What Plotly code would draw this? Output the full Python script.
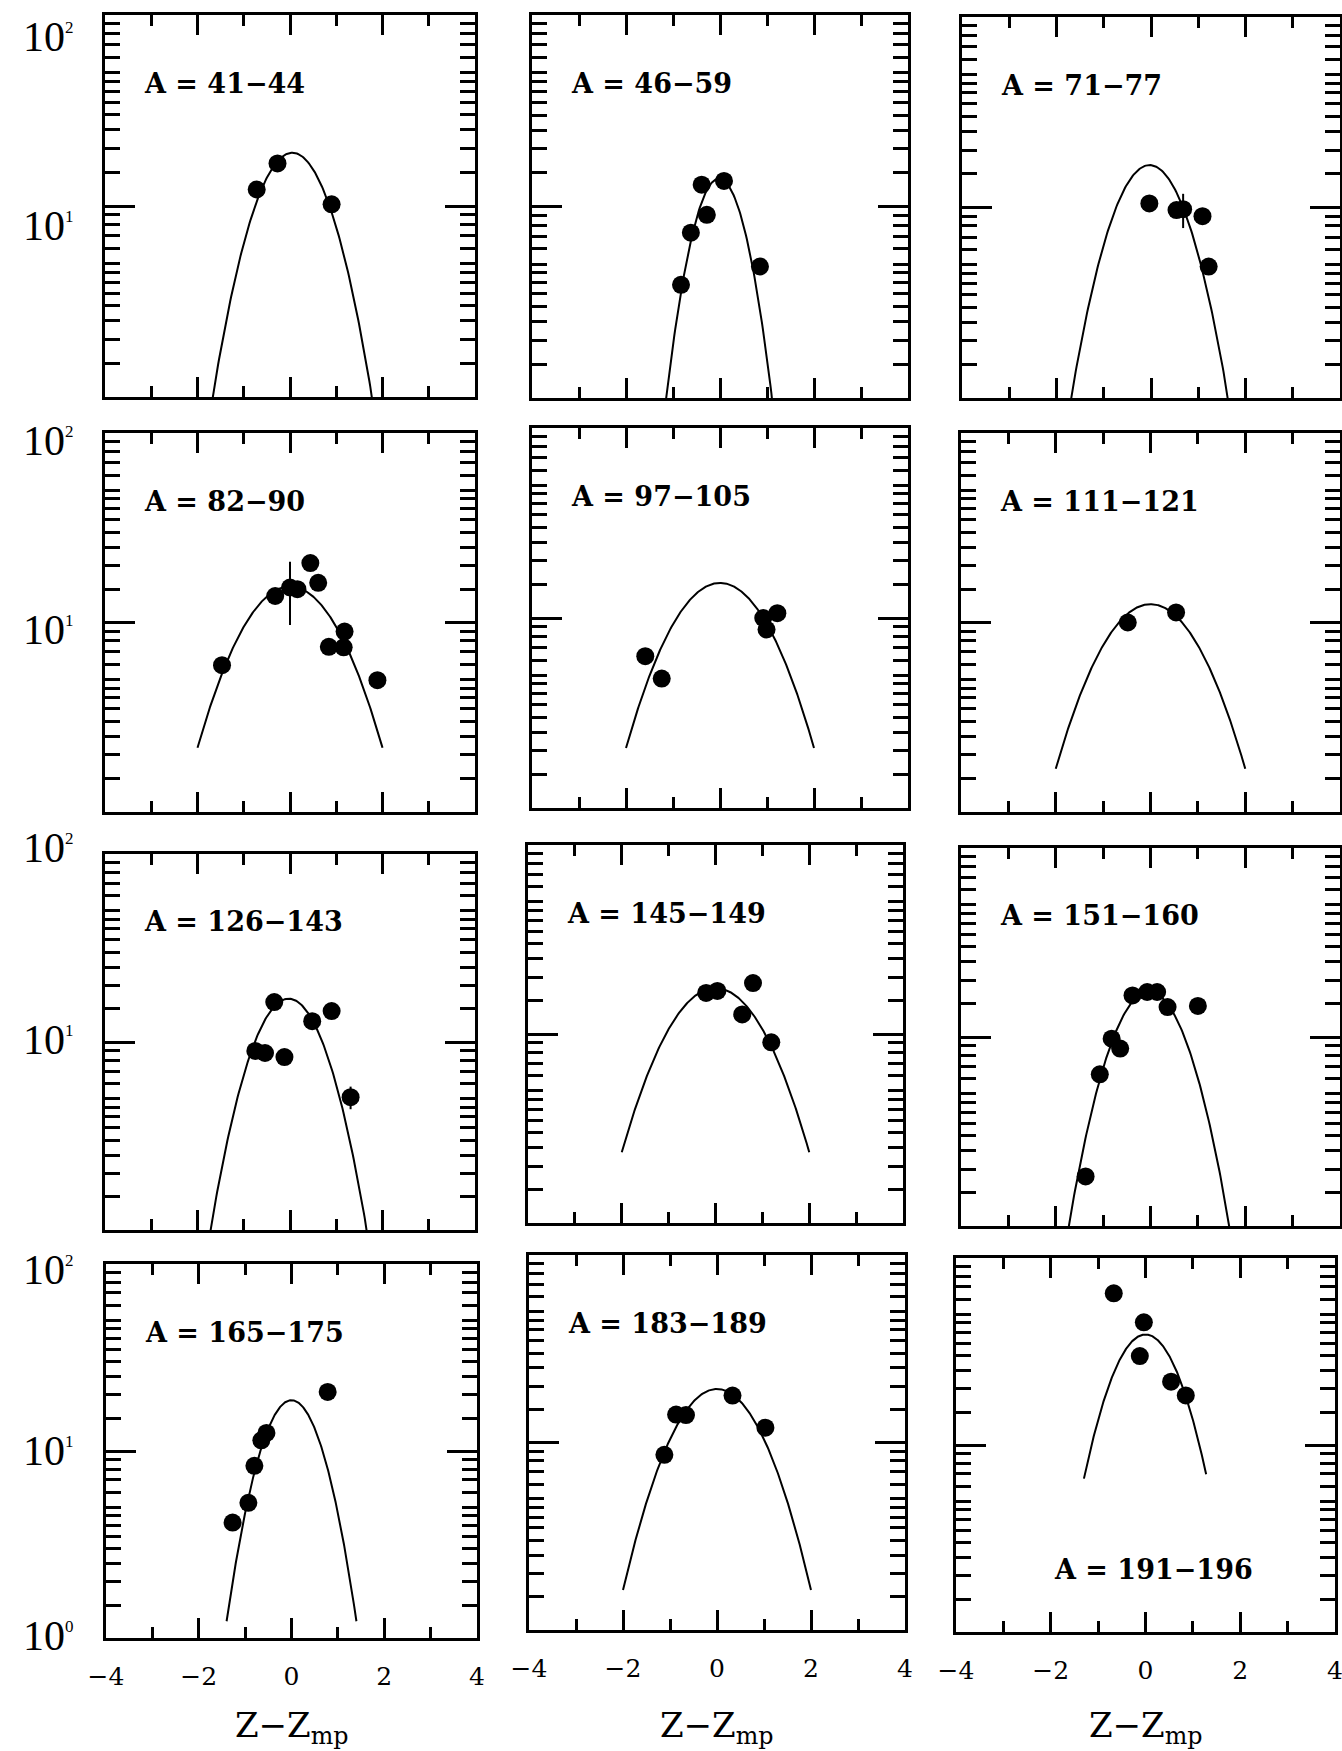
import numpy as np
import plotly.graph_objects as go

W, H = 1342, 1751

# ---------------- data ----------------
labels = ["A = 41−44", "A = 46−59", "A = 71−77",
          "A = 82−90", "A = 97−105", "A = 111−121",
          "A = 126−143", "A = 145−149", "A = 151−160",
          "A = 165−175", "A = 183−189", "A = 191−196"]

x_41_44 = [-0.72, -0.27, 0.90]
y_41_44 = [12.2, 16.7, 10.2]
x_46_59 = [-0.83, -0.62, -0.39, -0.28, 0.085, 0.85]
y_46_59 = [3.9, 7.3, 13.0, 9.05, 13.6, 4.86]
x_71_77 = [-0.035, 0.54, 0.68, 1.09, 1.22]
y_71_77 = [10.5, 9.7, 9.8, 9.0, 4.9]
e_71_77 = [0, 0, 2.0, 0, 0]
x_82_90 = [-1.47, -0.32, 0.0, 0.16, 0.44, 0.61, 0.84, 1.16, 1.18, 1.89]
y_82_90 = [5.95, 13.8, 15.3, 15.0, 20.6, 16.2, 7.44, 7.4, 8.96, 4.96]
e_82_90 = [0, 0, 5.6, 0, 0, 0, 0, 0, 0, 0]
x_97_105 = [-1.59, -1.24, 0.92, 0.99, 1.22]
y_97_105 = [6.3, 4.8, 10.0, 8.7, 10.6]
x_111_121 = [-0.48, 0.54]
y_111_121 = [10.0, 11.3]
x_126_143 = [-0.75, -0.54, -0.34, -0.12, 0.48, 0.90, 1.31]
y_126_143 = [8.96, 8.74, 16.3, 8.32, 12.9, 14.6, 5.09]
e_126_143 = [0, 0, 0, 0, 0, 0, 0.7]
x_145_149 = [-0.20, 0.04, 0.57, 0.80, 1.19]
y_145_149 = [16.5, 16.9, 12.7, 18.6, 9.04]
x_151_160 = [-1.37, -1.07, -0.82, -0.64, -0.38, -0.07, 0.14, 0.36, 1.0]
y_151_160 = [1.83, 6.35, 9.8, 8.68, 16.6, 17.3, 17.3, 14.4, 14.6]
x_165_175 = [-1.27, -0.93, -0.80, -0.65, -0.54, 0.78]
y_165_175 = [4.14, 5.28, 8.33, 11.4, 12.5, 20.7]
x_183_189 = [-1.12, -0.87, -0.66, 0.33, 1.03]
y_183_189 = [8.6, 14.1, 14.0, 17.8, 12.0]
x_191_196 = [-0.67, -0.035, -0.12, 0.54, 0.85]
y_191_196 = [64.7, 45.3, 29.9, 21.8, 18.4]

# Gaussian fit curves drawn in each panel: peak height, centroid, width, drawn x-range
curve_amp = [19.0, 14.0, 16.7, 15.5, 15.3, 12.5, 17.0, 17.5, 17.4, 18.7, 19.3, 39.0]
curve_center = [0.05, -0.02, -0.03, 0.0, 0.0, 0.0, -0.03, 0.0, -0.03, 0.0, 0.0, 0.0]
curve_sigma = [0.71, 0.49, 0.70, 1.01, 1.0, 1.0, 0.71, 1.0, 0.71, 0.60, 0.90, 0.69]
curve_xmin = [-3, -3, -3, -2, -2, -2, -3, -2, -3, -1.4, -2, -1.3]
curve_xmax = [3, 3, 3, 2, 2, 2, 3, 2, 3, 1.4, 2, 1.28]

x_tickvals = [-4, -2, 0, 2, 4]
x_ticktext = ["−4", "−2", "0", "2", "4"]
x_minor = [-3, -1, 1, 3]
y_tickvals = [1, 10, 100]
y_minor_mantissa = [1.5, 2, 2.5, 3, 3.5, 4, 4.5, 5, 6, 7, 8, 9]
y_minor = [m * 10 ** d for d in (0, 1) for m in y_minor_mantissa]

pts_x = [x_41_44, x_46_59, x_71_77, x_82_90, x_97_105, x_111_121,
         x_126_143, x_145_149, x_151_160, x_165_175, x_183_189, x_191_196]
pts_y = [y_41_44, y_46_59, y_71_77, y_82_90, y_97_105, y_111_121,
         y_126_143, y_145_149, y_151_160, y_165_175, y_183_189, y_191_196]
pts_e = {2: e_71_77, 3: e_82_90, 6: e_126_143}

# ---------------- layout geometry (pixels: left, right, top, bottom) ----------------
panel_px = [
    (105, 475, 15, 397), (532, 908, 15, 398), (962, 1340, 17, 398),
    (105, 475, 433, 812), (532, 908, 428, 808), (961, 1340, 433, 812),
    (105, 475, 854, 1230), (528, 903, 845, 1223), (961, 1340, 848, 1226),
    (106, 477, 1264, 1638), (529, 905, 1255, 1630), (956, 1335, 1258, 1632),
]

SERIF = "DejaVu Serif"
fig = go.Figure()
layout = dict(width=W, height=H, margin=dict(l=0, r=0, t=0, b=0, autoexpand=False),
              paper_bgcolor="white", plot_bgcolor="white", showlegend=False,
              font=dict(family=SERIF, color="black"))
annotations = []

for i in range(12):
    n = "" if i == 0 else str(i + 1)
    l, r, t, b = panel_px[i]
    bottom_row = i >= 9
    xs = np.linspace(curve_xmin[i], curve_xmax[i], 300)
    ys = curve_amp[i] * np.exp(-(xs - curve_center[i]) ** 2 / (2 * curve_sigma[i] ** 2))
    fig.add_trace(go.Scatter(x=xs, y=ys, mode="lines", line=dict(color="black", width=2),
                             xaxis="x" + n, yaxis="y" + n, hoverinfo="skip"))
    err = None
    if i in pts_e:
        err = dict(type="data", array=pts_e[i], visible=True, color="black",
                   thickness=2, width=0)
    fig.add_trace(go.Scatter(x=pts_x[i], y=pts_y[i], mode="markers",
                             marker=dict(color="black", size=18, line=dict(width=0)),
                             error_y=err, xaxis="x" + n, yaxis="y" + n))
    layout["xaxis" + n] = dict(
        domain=[l / W, r / W], anchor="y" + n, range=[-4, 4], automargin=False,
        tickmode="array", tickvals=x_tickvals, ticktext=x_ticktext,
        ticks="inside", ticklen=20, tickwidth=2.5, tickcolor="black",
        showline=True, linewidth=3, linecolor="black", mirror="allticks",
        showgrid=False, zeroline=False, showticklabels=bottom_row,
        tickfont=dict(family=SERIF, size=25, color="black"),
        ticklabelstandoff=14, ticklabeloverflow="allow",
        minor=dict(tickmode="array", tickvals=x_minor, ticks="inside", ticklen=11,
                   tickwidth=2.5, tickcolor="black", showgrid=False),
    )
    layout["yaxis" + n] = dict(
        domain=[1 - b / H, 1 - t / H], anchor="x" + n, type="log", range=[0, 2],
        automargin=False,
        tickmode="array", tickvals=y_tickvals,
        ticks="inside", ticklen=30, tickwidth=2.5, tickcolor="black",
        showline=True, linewidth=3, linecolor="black", mirror="allticks",
        showgrid=False, zeroline=False, showticklabels=False,
        minor=dict(tickmode="array", tickvals=y_minor, ticks="inside", ticklen=15,
                   tickwidth=2.5, tickcolor="black", showgrid=False),
    )
    # panel label
    pw, ph = r - l, b - t
    if i == 11:
        ax, ay = 96 / pw, 63 / ph
    else:
        ax, ay = 37 / pw, 1 - 68 / ph
    annotations.append(dict(text="<b>" + labels[i] + "</b>", xref="x" + n + " domain",
                            yref="y" + n + " domain",
                            x=ax, y=ay, xanchor="left", yanchor="middle", showarrow=False,
                            font=dict(family=SERIF, size=27, color="black")))

# y tick labels (left column), placed as in the reference
ylab = [("2", 37), ("1", 226), ("2", 441), ("1", 630), ("2", 848), ("1", 1040),
        ("2", 1270), ("1", 1451), ("0", 1636)]
for ex, yc in ylab:
    annotations.append(dict(text="10<sup><span style='font-size:17px'>" + ex + "</span></sup>",
                            xref="paper", yref="paper", x=76 / W, y=1 - yc / H,
                            xanchor="right", yanchor="middle", showarrow=False,
                            font=dict(family="Liberation Serif", size=42, color="black")))

# x axis titles
for i in (9, 10, 11):
    l, r, t, b = panel_px[i]
    annotations.append(dict(text="Z−Z<sub>mp</sub>", xref="paper", yref="paper",
                            x=(l + r) / 2 / W, y=1 - 1727 / H, xanchor="center", yanchor="middle",
                            showarrow=False, font=dict(family=SERIF, size=34, color="black")))

layout["annotations"] = annotations
fig.update_layout(**layout)
fig.write_html("out.html", config={"displayModeBar": False},
               post_script="document.body.style.margin='0';document.body.style.overflow='hidden';")
